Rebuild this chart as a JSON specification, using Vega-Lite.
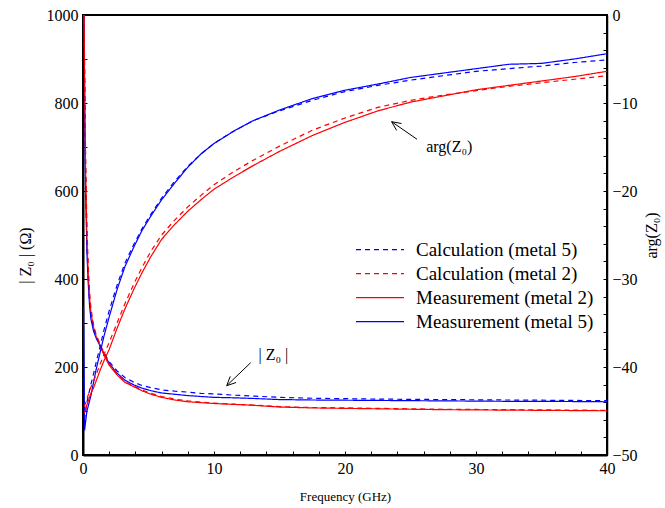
{
  "$schema": "https://vega.github.io/schema/vega-lite/v6.json",
  "width": 524,
  "height": 440,
  "autosize": "none",
  "padding": {"left": 83, "top": 15, "right": 58, "bottom": 53},
  "background": "white",
  "config": {
    "font": "Liberation Serif",
    "view": {"stroke": "black", "strokeWidth": 2},
    "axis": {
      "grid": false,
      "domainColor": "black",
      "domainWidth": 2,
      "tickColor": "black",
      "tickWidth": 1,
      "tickSize": -4,
      "labelPadding": 9,
      "labelFont": "Liberation Serif",
      "labelFontSize": 16,
      "labelColor": "black",
      "labelFlush": false,
      "labelOverlap": false,
      "titleFont": "Liberation Serif",
      "titleFontWeight": "normal",
      "titleColor": "black",
      "titleFontSize": 16
    },
    "legend": {
      "labelFont": "Liberation Serif",
      "labelFontSize": 19,
      "labelColor": "black",
      "labelLimit": 400
    }
  },
  "datasets": {
    "mag": [
      {"f": 0.06, "Measurement (metal 5)": 1000},
      {"f": 0.07, "Measurement (metal 2)": 1000},
      {"f": 0.08, "Calculation (metal 5)": 1000},
      {"f": 0.09, "Calculation (metal 2)": 1000},
      {"f": 0.1, "Calculation (metal 5)": 930, "Calculation (metal 2)": 950, "Measurement (metal 2)": 920, "Measurement (metal 5)": 900},
      {"f": 0.15, "Calculation (metal 5)": 760, "Calculation (metal 2)": 800, "Measurement (metal 2)": 760, "Measurement (metal 5)": 720},
      {"f": 0.2, "Calculation (metal 5)": 630, "Calculation (metal 2)": 680, "Measurement (metal 2)": 640, "Measurement (metal 5)": 600},
      {"f": 0.3, "Calculation (metal 5)": 480, "Calculation (metal 2)": 520, "Measurement (metal 2)": 490, "Measurement (metal 5)": 460},
      {"f": 0.4, "Calculation (metal 5)": 400, "Calculation (metal 2)": 430, "Measurement (metal 2)": 410, "Measurement (metal 5)": 390},
      {"f": 0.5, "Calculation (metal 5)": 350, "Calculation (metal 2)": 372, "Measurement (metal 2)": 358, "Measurement (metal 5)": 340},
      {"f": 0.6, "Calculation (metal 5)": 318, "Calculation (metal 2)": 335, "Measurement (metal 2)": 324, "Measurement (metal 5)": 310},
      {"f": 0.8, "Calculation (metal 5)": 287, "Calculation (metal 2)": 297, "Measurement (metal 2)": 291, "Measurement (metal 5)": 282},
      {"f": 1.0, "Calculation (metal 5)": 269, "Calculation (metal 2)": 274, "Measurement (metal 2)": 270, "Measurement (metal 5)": 266},
      {"f": 1.3, "Calculation (metal 5)": 250, "Calculation (metal 2)": 252, "Measurement (metal 2)": 249, "Measurement (metal 5)": 248},
      {"f": 1.6, "Calculation (metal 5)": 233, "Calculation (metal 2)": 230, "Measurement (metal 2)": 227, "Measurement (metal 5)": 231},
      {"f": 2.0, "Calculation (metal 5)": 212, "Calculation (metal 2)": 207, "Measurement (metal 2)": 204, "Measurement (metal 5)": 208},
      {"f": 2.6, "Calculation (metal 5)": 191, "Calculation (metal 2)": 184, "Measurement (metal 2)": 182, "Measurement (metal 5)": 186},
      {"f": 3.2, "Calculation (metal 5)": 176, "Calculation (metal 2)": 167, "Measurement (metal 2)": 165, "Measurement (metal 5)": 170},
      {"f": 3.9, "Calculation (metal 5)": 165, "Calculation (metal 2)": 156, "Measurement (metal 2)": 155, "Measurement (metal 5)": 159},
      {"f": 4.5, "Calculation (metal 5)": 158, "Calculation (metal 2)": 148, "Measurement (metal 2)": 146, "Measurement (metal 5)": 152},
      {"f": 5.2, "Calculation (metal 5)": 153, "Calculation (metal 2)": 140, "Measurement (metal 2)": 138, "Measurement (metal 5)": 146},
      {"f": 6, "Calculation (metal 5)": 148, "Calculation (metal 2)": 133, "Measurement (metal 2)": 131, "Measurement (metal 5)": 141},
      {"f": 7, "Calculation (metal 5)": 145, "Calculation (metal 2)": 127, "Measurement (metal 2)": 125, "Measurement (metal 5)": 138},
      {"f": 8, "Calculation (metal 5)": 143, "Calculation (metal 2)": 123, "Measurement (metal 2)": 121, "Measurement (metal 5)": 135},
      {"f": 9, "Calculation (metal 5)": 140, "Calculation (metal 2)": 120, "Measurement (metal 2)": 119, "Measurement (metal 5)": 133},
      {"f": 10, "Calculation (metal 5)": 139, "Calculation (metal 2)": 118, "Measurement (metal 2)": 117, "Measurement (metal 5)": 131},
      {"f": 11.5, "Calculation (metal 5)": 136, "Calculation (metal 2)": 115.5, "Measurement (metal 2)": 115, "Measurement (metal 5)": 130},
      {"f": 13, "Calculation (metal 5)": 134, "Calculation (metal 2)": 113.5, "Measurement (metal 2)": 113, "Measurement (metal 5)": 128.5},
      {"f": 15, "Calculation (metal 5)": 131, "Calculation (metal 2)": 110, "Measurement (metal 2)": 109, "Measurement (metal 5)": 126},
      {"f": 17.5, "Calculation (metal 5)": 129, "Calculation (metal 2)": 108, "Measurement (metal 2)": 107, "Measurement (metal 5)": 125},
      {"f": 20, "Calculation (metal 5)": 128, "Calculation (metal 2)": 107, "Measurement (metal 2)": 106, "Measurement (metal 5)": 124.5},
      {"f": 22.5, "Calculation (metal 5)": 127, "Calculation (metal 2)": 106, "Measurement (metal 2)": 105, "Measurement (metal 5)": 124},
      {"f": 25, "Calculation (metal 5)": 126.5, "Calculation (metal 2)": 105, "Measurement (metal 2)": 104, "Measurement (metal 5)": 123.5},
      {"f": 27.5, "Calculation (metal 5)": 126, "Calculation (metal 2)": 104, "Measurement (metal 2)": 103, "Measurement (metal 5)": 123},
      {"f": 30, "Calculation (metal 5)": 125.5, "Calculation (metal 2)": 103.5, "Measurement (metal 2)": 102.5, "Measurement (metal 5)": 122.5},
      {"f": 32.5, "Calculation (metal 5)": 125, "Calculation (metal 2)": 103, "Measurement (metal 2)": 102, "Measurement (metal 5)": 122},
      {"f": 35, "Calculation (metal 5)": 124.5, "Calculation (metal 2)": 102.5, "Measurement (metal 2)": 101.5, "Measurement (metal 5)": 122},
      {"f": 37.5, "Calculation (metal 5)": 124, "Calculation (metal 2)": 102, "Measurement (metal 2)": 101, "Measurement (metal 5)": 121.5},
      {"f": 40, "Calculation (metal 5)": 123.5, "Calculation (metal 2)": 101.5, "Measurement (metal 2)": 100.5, "Measurement (metal 5)": 121}
    ],
    "arg": [
      {"f": 0.04, "Measurement (metal 5)": -33},
      {"f": 0.1, "Calculation (metal 5)": -46, "Calculation (metal 2)": -44.5, "Measurement (metal 2)": -45.3},
      {"f": 0.12, "Measurement (metal 5)": -47.2},
      {"f": 0.3, "Calculation (metal 5)": -44, "Calculation (metal 2)": -43.6, "Measurement (metal 2)": -44.3, "Measurement (metal 5)": -45},
      {"f": 0.6, "Calculation (metal 5)": -42, "Calculation (metal 2)": -42.3, "Measurement (metal 2)": -43.0, "Measurement (metal 5)": -43.3},
      {"f": 0.8, "Calculation (metal 5)": -40.8, "Calculation (metal 2)": -41.6, "Measurement (metal 2)": -42.4, "Measurement (metal 5)": -41.8},
      {"f": 1.0, "Calculation (metal 5)": -39.5, "Calculation (metal 2)": -40.9, "Measurement (metal 2)": -41.6, "Measurement (metal 5)": -40.3},
      {"f": 1.3, "Calculation (metal 5)": -37.7, "Calculation (metal 2)": -39.7, "Measurement (metal 2)": -40.4, "Measurement (metal 5)": -38.4},
      {"f": 1.6, "Calculation (metal 5)": -35.8, "Calculation (metal 2)": -38.6, "Measurement (metal 2)": -39.3, "Measurement (metal 5)": -36.5},
      {"f": 2.0, "Calculation (metal 5)": -33.6, "Calculation (metal 2)": -37.2, "Measurement (metal 2)": -38.0, "Measurement (metal 5)": -34.3},
      {"f": 2.6, "Calculation (metal 5)": -30.7, "Calculation (metal 2)": -35.0, "Measurement (metal 2)": -35.6, "Measurement (metal 5)": -31.2},
      {"f": 3.2, "Calculation (metal 5)": -28.2, "Calculation (metal 2)": -32.8, "Measurement (metal 2)": -33.4, "Measurement (metal 5)": -28.6},
      {"f": 3.9, "Calculation (metal 5)": -26.0, "Calculation (metal 2)": -30.5, "Measurement (metal 2)": -31.1, "Measurement (metal 5)": -26.3},
      {"f": 4.5, "Calculation (metal 5)": -24.3, "Calculation (metal 2)": -28.7, "Measurement (metal 2)": -29.3, "Measurement (metal 5)": -24.5},
      {"f": 5.2, "Calculation (metal 5)": -22.6, "Calculation (metal 2)": -26.8, "Measurement (metal 2)": -27.4, "Measurement (metal 5)": -22.8},
      {"f": 6, "Calculation (metal 5)": -20.8, "Calculation (metal 2)": -25.0, "Measurement (metal 2)": -25.5, "Measurement (metal 5)": -21.0},
      {"f": 7, "Calculation (metal 5)": -18.9, "Calculation (metal 2)": -23.3, "Measurement (metal 2)": -23.8, "Measurement (metal 5)": -19.1},
      {"f": 8, "Calculation (metal 5)": -17.2, "Calculation (metal 2)": -21.8, "Measurement (metal 2)": -22.3, "Measurement (metal 5)": -17.3},
      {"f": 9, "Calculation (metal 5)": -15.8, "Calculation (metal 2)": -20.5, "Measurement (metal 2)": -21.0, "Measurement (metal 5)": -15.8},
      {"f": 10, "Calculation (metal 5)": -14.6, "Calculation (metal 2)": -19.3, "Measurement (metal 2)": -19.8, "Measurement (metal 5)": -14.6},
      {"f": 11.5, "Calculation (metal 5)": -13.2, "Calculation (metal 2)": -17.8, "Measurement (metal 2)": -18.4, "Measurement (metal 5)": -13.2},
      {"f": 13, "Calculation (metal 5)": -12.0, "Calculation (metal 2)": -16.5, "Measurement (metal 2)": -17.1, "Measurement (metal 5)": -12.0},
      {"f": 15, "Calculation (metal 5)": -10.9, "Calculation (metal 2)": -14.9, "Measurement (metal 2)": -15.5, "Measurement (metal 5)": -10.8},
      {"f": 17.5, "Calculation (metal 5)": -9.7, "Calculation (metal 2)": -13.1, "Measurement (metal 2)": -13.7, "Measurement (metal 5)": -9.5},
      {"f": 20, "Calculation (metal 5)": -8.7, "Calculation (metal 2)": -11.7, "Measurement (metal 2)": -12.2, "Measurement (metal 5)": -8.55},
      {"f": 22.5, "Calculation (metal 5)": -8.0, "Calculation (metal 2)": -10.5, "Measurement (metal 2)": -10.9, "Measurement (metal 5)": -7.85},
      {"f": 25, "Calculation (metal 5)": -7.4, "Calculation (metal 2)": -9.7, "Measurement (metal 2)": -9.9, "Measurement (metal 5)": -7.1},
      {"f": 27.5, "Calculation (metal 5)": -6.9, "Calculation (metal 2)": -9.1, "Measurement (metal 2)": -9.2, "Measurement (metal 5)": -6.6},
      {"f": 30, "Calculation (metal 5)": -6.4, "Calculation (metal 2)": -8.6, "Measurement (metal 2)": -8.5, "Measurement (metal 5)": -6.1},
      {"f": 32.5, "Calculation (metal 5)": -6.1, "Calculation (metal 2)": -8.1, "Measurement (metal 2)": -8.0, "Measurement (metal 5)": -5.6},
      {"f": 35, "Calculation (metal 5)": -5.8, "Calculation (metal 2)": -7.7, "Measurement (metal 2)": -7.5, "Measurement (metal 5)": -5.5},
      {"f": 37.5, "Calculation (metal 5)": -5.4, "Calculation (metal 2)": -7.3, "Measurement (metal 2)": -7.0, "Measurement (metal 5)": -5.0},
      {"f": 40, "Calculation (metal 5)": -5.1, "Calculation (metal 2)": -6.9, "Measurement (metal 2)": -6.4, "Measurement (metal 5)": -4.4}
    ],
    "arrows": [
      {"f": 25.5, "z": 717.5, "f2": 23.56, "z2": 757.5},
      {"f": 23.56, "z": 757.5, "f2": 23.94, "z2": 737.7},
      {"f": 23.56, "z": 757.5, "f2": 24.31, "z2": 753.4},
      {"f": 12.8, "z": 209.8, "f2": 10.97, "z2": 157.5},
      {"f": 10.97, "z": 157.5, "f2": 11.69, "z2": 164.8},
      {"f": 10.97, "z": 157.5, "f2": 11.24, "z2": 178.6}
    ],
    "labels": [
      {"f": 26.2, "z": 688, "t": "arg(Z₀)"},
      {"f": 13.4, "z": 216, "t": "| Z₀ |"}
    ]
  },
  "encoding": {
    "x": {
      "field": "f",
      "type": "quantitative",
      "scale": {"domain": [0, 40], "nice": false, "zero": false},
      "axis": {
        "title": "Frequency (GHz)",
        "titleFontSize": 13,
        "titlePadding": 14,
        "values": [0, 2, 4, 6, 8, 10, 12, 14, 16, 18, 20, 22, 24, 26, 28, 30, 32, 34, 36, 38, 40],
        "labelExpr": "datum.value % 10 === 0 ? datum.label : ''"
      }
    }
  },
  "layer": [
    {
      "encoding": {
        "y": {
          "field": "z",
          "type": "quantitative",
          "scale": {"domain": [0, 1000], "nice": false},
          "axis": {
            "orient": "left",
            "title": "| Z₀ |   (Ω)",
            "titlePadding": 13,
            "titleY": 240,
            "titleAlign": "center",
            "format": "d",
            "values": [0, 100, 200, 300, 400, 500, 600, 700, 800, 900, 1000],
            "labelExpr": "datum.value % 200 === 0 ? datum.label : ''"
          }
        }
      },
      "layer": [
        {
          "data": {"name": "mag"},
          "transform": [
            {"fold": ["Calculation (metal 5)", "Calculation (metal 2)", "Measurement (metal 2)", "Measurement (metal 5)"], "as": ["series", "z"]},
            {"filter": "isValid(datum.z)"}
          ],
          "mark": {"type": "line", "strokeWidth": 1.2, "clip": true},
          "encoding": {
            "color": {
              "field": "series",
              "type": "nominal",
              "scale": {
                "domain": ["Calculation (metal 5)", "Calculation (metal 2)", "Measurement (metal 2)", "Measurement (metal 5)"],
                "range": ["#0000ff", "#ff0000", "#ff0000", "#0000ff"]
              },
              "legend": {
                "title": null,
                "orient": "none",
                "legendX": 272,
                "legendY": 223,
                "symbolType": "stroke",
                "symbolSize": 2304,
                "symbolStrokeWidth": 1.2,
                "labelOffset": 11,
                "clipHeight": 23.3,
                "rowPadding": 0
              }
            },
            "strokeDash": {
              "field": "series",
              "type": "nominal",
              "scale": {
                "domain": ["Calculation (metal 5)", "Calculation (metal 2)", "Measurement (metal 2)", "Measurement (metal 5)"],
                "range": [[5, 4], [5, 4], [1, 0], [1, 0]]
              },
              "legend": null
            }
          }
        },
        {
          "data": {"name": "arrows"},
          "mark": {"type": "rule", "color": "black", "strokeWidth": 1},
          "encoding": {
            "x2": {"field": "f2"},
            "y2": {"field": "z2"}
          }
        },
        {
          "data": {"name": "labels"},
          "mark": {"type": "text", "font": "Liberation Serif", "fontSize": 16, "align": "left", "baseline": "alphabetic", "color": "black"},
          "encoding": {
            "text": {"field": "t"}
          }
        }
      ]
    },
    {
      "data": {"name": "arg"},
      "transform": [
        {"fold": ["Calculation (metal 5)", "Calculation (metal 2)", "Measurement (metal 2)", "Measurement (metal 5)"], "as": ["series", "a"]},
        {"filter": "isValid(datum.a)"}
      ],
      "mark": {"type": "line", "strokeWidth": 1.2, "clip": true},
      "encoding": {
        "y": {
          "field": "a",
          "type": "quantitative",
          "scale": {"domain": [-50, 0], "nice": false, "zero": false},
          "axis": {
            "orient": "right",
            "title": "arg(Z₀)",
            "titleAngle": 270,
            "titlePadding": 22,
            "domainWidth": 1.5,
            "values": [-50, -48, -46, -44, -42, -40, -38, -36, -34, -32, -30, -28, -26, -24, -22, -20, -18, -16, -14, -12, -10, -8, -6, -4, -2, 0],
            "labelExpr": "datum.value % 10 === 0 ? datum.label : ''"
          }
        },
        "color": {
          "field": "series",
          "type": "nominal",
          "scale": {
            "domain": ["Calculation (metal 5)", "Calculation (metal 2)", "Measurement (metal 2)", "Measurement (metal 5)"],
            "range": ["#0000ff", "#ff0000", "#ff0000", "#0000ff"]
          }
        },
        "strokeDash": {
          "field": "series",
          "type": "nominal",
          "scale": {
            "domain": ["Calculation (metal 5)", "Calculation (metal 2)", "Measurement (metal 2)", "Measurement (metal 5)"],
            "range": [[5, 4], [5, 4], [1, 0], [1, 0]]
          },
          "legend": null
        }
      }
    }
  ],
  "resolve": {"scale": {"y": "independent"}}
}
